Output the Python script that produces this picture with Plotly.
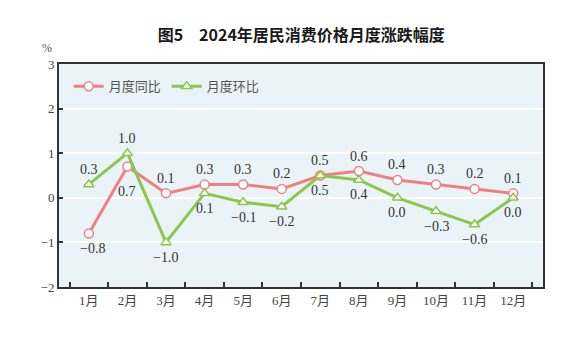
import plotly.graph_objects as go

months = ["1月", "2月", "3月", "4月", "5月", "6月", "7月", "8月", "9月", "10月", "11月", "12月"]
yoy = [-0.8, 0.7, 0.1, 0.3, 0.3, 0.2, 0.5, 0.6, 0.4, 0.3, 0.2, 0.1]
mom = [0.3, 1.0, -1.0, 0.1, -0.1, -0.2, 0.5, 0.4, 0.0, -0.3, -0.6, 0.0]
y_ticks = [-2, -1, 0, 1, 2, 3]

RED = "#F08080"
GREEN = "#8CC64A"
SERIF = "Liberation Serif, Noto Sans CJK SC"
CJK = "Noto Sans CJK SC"

fig = go.Figure()
fig.add_trace(go.Scatter(
    x=months, y=yoy, name="月度同比", mode="lines+markers",
    line=dict(color=RED, width=3),
    marker=dict(symbol="circle", size=9, color="white", line=dict(color=RED, width=1.5)),
))
fig.add_trace(go.Scatter(
    x=months, y=mom, name="月度环比", mode="lines+markers",
    line=dict(color=GREEN, width=3),
    marker=dict(symbol="triangle-up", size=9, color="white", line=dict(color=GREEN, width=1.5)),
))

def fmt(v):
    return f"{v:.1f}".replace("-", "−")

# label placement: above/below each point
yoy_above = [False, False, True, True, True, True, True, True, True, True, True, True]
mom_above = [True, True, False, False, False, False, False, False, False, False, False, False]

annotations = []
for i, m in enumerate(months):
    s = 15 if yoy_above[i] else -15
    if i == 1:
        s = -25
    annotations.append(dict(x=m, y=yoy[i], text=fmt(yoy[i]), showarrow=False, yshift=s,
                            xshift=4 if i == 0 else 0,
                            font=dict(family=SERIF, size=14, color="#333")))
    s2 = 15 if mom_above[i] else -15
    annotations.append(dict(x=m, y=mom[i], text=fmt(mom[i]), showarrow=False, yshift=s2,
                            font=dict(family=SERIF, size=14, color="#333")))

annotations.append(dict(xref="paper", yref="paper", x=-0.025, y=1.07, text="%",
                        showarrow=False, xanchor="center", yanchor="middle",
                        font=dict(family=SERIF, size=12, color="#555")))

fig.update_layout(
    width=585, height=339,
    margin=dict(l=59, r=42, t=64, b=52),
    paper_bgcolor="white",
    plot_bgcolor="#EAF4F8",
    title=dict(text="图5　2024年居民消费价格月度涨跌幅度", x=0.515, xanchor="center",
               y=1 - 35 / 339, yanchor="middle",
               font=dict(family=CJK, size=16, color="#1a1a1a", weight="bold")),
    showlegend=True,
    legend=dict(orientation="h", x=0.02, y=0.90, xanchor="left", yanchor="middle",
                bgcolor="rgba(0,0,0,0)", font=dict(family=CJK, size=13, color="#555"),
                entrywidth=53, itemwidth=30),
    annotations=annotations,
    xaxis=dict(
        type="category", tickson="boundaries", ticks="inside", ticklen=5, tickwidth=1.5,
        tickcolor="#333", showline=True, linecolor="#333", linewidth=2, mirror=True,
        showgrid=False, tickfont=dict(family=SERIF, size=13, color="#444"),
    ),
    yaxis=dict(
        range=[-2, 3], tickvals=y_ticks, ticks="inside", ticklen=4, tickwidth=1.5,
        tickcolor="#333", showline=True, linecolor="#333", linewidth=2, mirror=True,
        showgrid=True, gridcolor="white", gridwidth=1.5, zeroline=False,
        tickfont=dict(family=SERIF, size=13, color="#444"),
    ),
)

fig.write_html("out.html")
